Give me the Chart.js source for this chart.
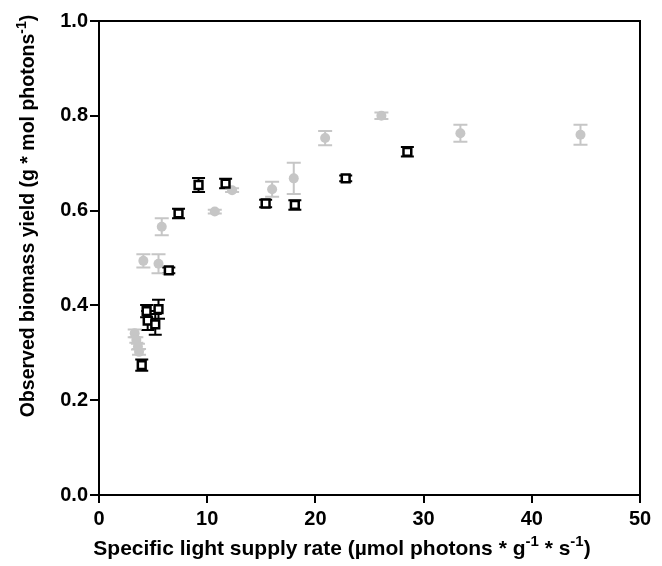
<!DOCTYPE html>
<html>
<head>
<meta charset="utf-8">
<script src="https://cdn.jsdelivr.net/npm/chart.js@4.4.1/dist/chart.umd.min.js"></script>
<style>
  body { margin: 0; background: #fff; }
  #wrap { width: 662px; height: 566px; }
</style>
</head>
<body>
<div id="wrap"><canvas id="yieldChart" width="662" height="566"></canvas></div>
<script>
// Gray filled circles
const grayX = [3.3, 3.45, 3.6, 3.7, 4.1, 5.5, 5.8, 10.7, 12.3, 16.0, 18.0, 20.9, 26.1, 33.4, 44.5];
const grayY = [0.341, 0.327, 0.313, 0.302, 0.494, 0.488, 0.566, 0.598, 0.643, 0.645, 0.668, 0.753, 0.800, 0.763, 0.760];
const grayErr = [0.008, 0.006, 0.006, 0.006, 0.014, 0.02, 0.018, 0.004, 0.004, 0.016, 0.033, 0.015, 0.007, 0.018, 0.021];

// Black open squares
const blackX = [3.95, 4.4, 4.5, 5.2, 5.5, 6.45, 7.35, 9.2, 11.7, 15.4, 18.1, 22.8, 28.5];
const blackY = [0.274, 0.388, 0.368, 0.36, 0.392, 0.474, 0.594, 0.654, 0.657, 0.615, 0.612, 0.668, 0.724];
const blackErr = [0.012, 0.013, 0.02, 0.022, 0.02, 0.006, 0.01, 0.015, 0.01, 0.008, 0.01, 0.006, 0.01];

const xTicks = [0, 10, 20, 30, 40, 50];
const yTicks = [0.0, 0.2, 0.4, 0.6, 0.8, 1.0];

// axis titles, split so the exponents can be raised
const xTitle = [['Specific light supply rate (µmol photons * g', false], ['-1', true], [' * s', false], ['-1', true], [')', false]];
const yTitle = [['Observed biomass yield (g * mol photons', false], ['-1', true], [')', false]];

const grayColor = '#c6c6c6';
const FONT = 'Liberation Sans';
const ctx = document.getElementById('yieldChart').getContext('2d');

// draw vertical error bars with caps, under the markers
const errorBars = {
  id: 'errorBars',
  beforeDatasetsDraw(chart) {
    const c = chart.ctx;
    const xs = chart.scales.x;
    const ys = chart.scales.y;
    chart.data.datasets.forEach(ds => {
      c.save();
      c.strokeStyle = ds.errColor;
      c.lineWidth = 2;
      ds.data.forEach((p, i) => {
        const px = xs.getPixelForValue(p.x);
        const top = ys.getPixelForValue(p.y + ds.err[i]);
        const bot = ys.getPixelForValue(p.y - ds.err[i]);
        const cap = ds.capWidth / 2;
        c.beginPath();
        c.moveTo(px, top); c.lineTo(px, bot);
        c.moveTo(px - cap, top); c.lineTo(px + cap, top);
        c.moveTo(px - cap, bot); c.lineTo(px + cap, bot);
        c.stroke();
      });
      c.restore();
    });
  }
};

// write a title made of normal and superscript pieces, centred on (0,0)
function drawRich(c, parts, size) {
  const big = 'bold ' + size + 'px "' + FONT + '"';
  const small = 'bold ' + Math.round(size * 0.72) + 'px "' + FONT + '"';
  let total = 0;
  parts.forEach(([t, sup]) => { c.font = sup ? small : big; total += c.measureText(t).width; });
  let x = -total / 2;
  c.textBaseline = 'alphabetic';
  c.textAlign = 'left';
  parts.forEach(([t, sup]) => {
    c.font = sup ? small : big;
    c.fillText(t, x, sup ? -size * 0.42 : 0);
    x += c.measureText(t).width;
  });
}

// top and right frame lines plus axis titles
const frame = {
  id: 'frame',
  afterDraw(chart) {
    const a = chart.chartArea;
    const c = chart.ctx;
    c.save();
    c.strokeStyle = '#000';
    c.lineWidth = 2;
    c.beginPath();
    c.moveTo(a.left, a.top);
    c.lineTo(a.right, a.top);
    c.lineTo(a.right, a.bottom);
    c.stroke();
    c.fillStyle = '#000';
    c.translate(342, 555);
    drawRich(c, xTitle, 21);
    c.restore();

    c.save();
    c.fillStyle = '#000';
    c.translate(34, 216);
    c.rotate(-Math.PI / 2);
    drawRich(c, yTitle, 19.5);
    c.restore();
  }
};

new Chart(ctx, {
  type: 'scatter',
  data: {
    datasets: [
      {
        label: 'open squares',
        data: blackX.map((x, i) => ({ x, y: blackY[i] })),
        err: blackErr,
        errColor: '#000',
        capWidth: 13,
        pointStyle: 'rect',
        pointRadius: 5.5,
        pointBackgroundColor: '#fff',
        pointBorderColor: '#000',
        pointBorderWidth: 2.5,
      },
      {
        label: 'gray circles',
        data: grayX.map((x, i) => ({ x, y: grayY[i] })),
        err: grayErr,
        errColor: grayColor,
        capWidth: 14,
        pointStyle: 'circle',
        pointRadius: 5,
        pointBackgroundColor: grayColor,
        pointBorderColor: grayColor,
        pointBorderWidth: 0,
      },
    ],
  },
  options: {
    responsive: false,
    animation: false,
    layout: { padding: { top: 21, right: 22, left: 0, bottom: 0 } },
    plugins: {
      legend: { display: false },
      tooltip: { enabled: false },
    },
    scales: {
      x: {
        type: 'linear',
        min: 0,
        max: 50,
        afterBuildTicks: axis => { axis.ticks = xTicks.map(v => ({ value: v })); },
        afterFit: axis => { axis.height = 71; },
        grid: { drawOnChartArea: false, drawTicks: true, tickLength: 8, color: '#000', lineWidth: 2 },
        border: { display: true, color: '#000', width: 2 },
        ticks: {
          color: '#000',
          padding: 4,
          maxRotation: 0,
          font: { family: FONT, size: 20, weight: 'bold' },
        },
      },
      y: {
        type: 'linear',
        min: 0,
        max: 1.0,
        afterBuildTicks: axis => { axis.ticks = yTicks.map(v => ({ value: v })); },
        afterFit: axis => { axis.width = 99; },
        grid: { drawOnChartArea: false, drawTicks: true, tickLength: 9, color: '#000', lineWidth: 2 },
        border: { display: true, color: '#000', width: 2 },
        ticks: {
          color: '#000',
          padding: 2,
          callback: v => v.toFixed(1),
          font: { family: FONT, size: 20, weight: 'bold' },
        },
      },
    },
  },
  plugins: [errorBars, frame],
});
</script>
</body>
</html>
